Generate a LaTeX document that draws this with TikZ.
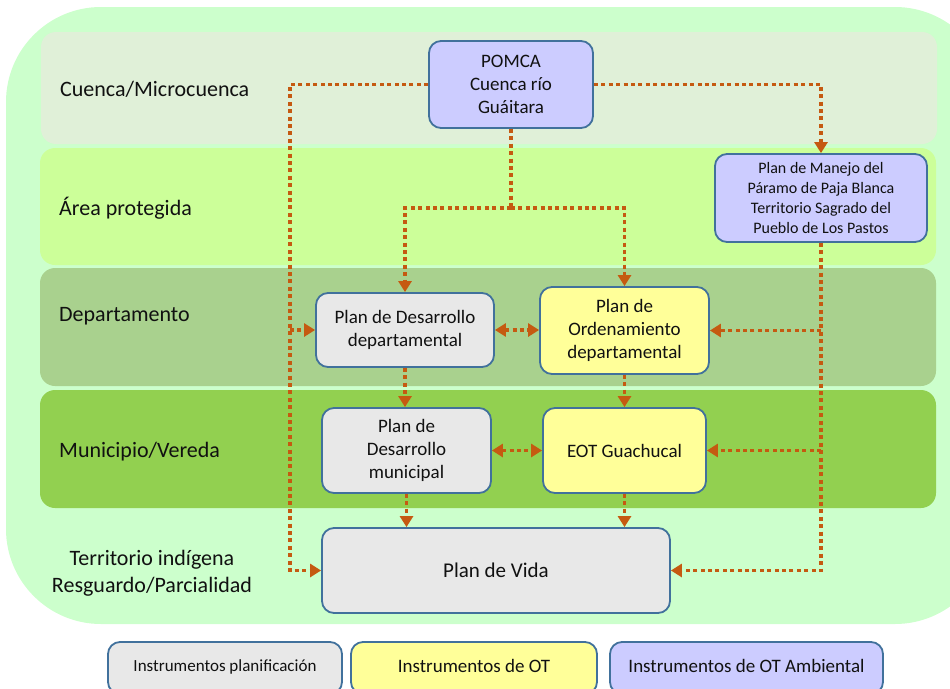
\documentclass[tikz,border=0pt]{standalone}
\usepackage{fontspec}
\setmainfont{Carlito}
\usetikzlibrary{arrows.meta,calc}

\definecolor{outerbg}{HTML}{CCFFCC}
\definecolor{bandA}{HTML}{E0F0D8}
\definecolor{bandB}{HTML}{CCFF99}
\definecolor{bandC}{HTML}{A9D18E}
\definecolor{bandD}{HTML}{92D050}
\definecolor{boxgray}{HTML}{E8E8E8}
\definecolor{boxyellow}{HTML}{FFFF99}
\definecolor{boxblue}{HTML}{CCCCFF}
\definecolor{boxline}{HTML}{41719C}
\definecolor{flowc}{HTML}{C55A11}
\definecolor{ink}{HTML}{111111}

\tikzset{
  band/.style={rounded corners=15pt},
  inst/.style={draw=boxline, line width=1.8pt, rounded corners=12pt, inner sep=0pt,
    align=center, text=ink, font=\fontsize{19}{23}\selectfont},
  gray/.style={inst, fill=boxgray},
  yel/.style={inst, fill=boxyellow},
  blu/.style={inst, fill=boxblue},
  level/.style={text=ink, font=\fontsize{22}{27}\selectfont, inner sep=0pt},
  flow/.style={draw=flowc, line width=3.8pt, dash pattern=on 4pt off 3.4pt},
  tip/.style={-{Triangle[length=11pt,width=13pt]}},
  tips/.style={{Triangle[length=11pt,width=13pt]}-{Triangle[length=11pt,width=13pt]}},
}

\begin{document}
\begin{tikzpicture}[x=1pt,y=-1pt]
\useasboundingbox (0,0) rectangle (950,688);
\clip (0,0) rectangle (950,688);

% background region and level bands
\fill[outerbg, rounded corners=95pt] (6,7) rectangle (990,624);
\fill[bandA, band] (41,32) rectangle (937,144);
\fill[bandB, band] (40,148) rectangle (936,265);
\fill[bandC, band] (40,268) rectangle (936,386);
\fill[bandD, band] (40,390) rectangle (936,508);

% level labels
\node[level, anchor=base west] (lvA) at (60,96) {Cuenca/Microcuenca};
\node[level, anchor=base west] (lvB) at (59,215) {Área protegida};
\node[level, anchor=base west] (lvC) at (59,321) {Departamento};
\node[level, anchor=base west] (lvD) at (59,457) {Municipio/Vereda};
\node[level, anchor=base] (lvE1) at (152,565) {Territorio indígena};
\node[level, anchor=base] (lvE2) at (152,592) {Resguardo/Parcialidad};

% planning instruments
\node[blu, minimum width=164pt, minimum height=87pt] (pomca) at (511,84.5)
  {POMCA\\Cuenca río\\Guáitara};
\node[blu, minimum width=212pt, minimum height=88pt,
  font=\fontsize{16}{19.8}\selectfont] (pm) at (821,198)
  {Plan de Manejo del\\Páramo de Paja Blanca\\Territorio Sagrado del\\Pueblo de Los Pastos};
\node[gray, minimum width=178pt, minimum height=74pt] (pdd) at (405,330)
  {Plan de Desarrollo\\departamental};
\node[yel, minimum width=169pt, minimum height=87pt] (pod) at (624.5,330.5)
  {Plan de\\Ordenamiento\\departamental};
\node[gray, minimum width=169pt, minimum height=85pt] (pdm) at (406.5,450.5)
  {Plan de\\Desarrollo\\municipal};
\node[yel, minimum width=163pt, minimum height=85pt] (eot) at (624.5,450.5)
  {EOT Guachucal};
\node[gray, minimum width=348pt, minimum height=85pt,
  font=\fontsize{21}{25}\selectfont] (vida) at (496,570.5) {Plan de Vida};

% legend
\node[gray, minimum width=234pt, minimum height=52pt,
  font=\fontsize{17}{20}\selectfont] (lg1) at (225,668) {\raisebox{4pt}{Instrumentos planificación}};
\node[yel, minimum width=246pt, minimum height=52pt] (lg2) at (474,668)
  {\raisebox{4pt}{Instrumentos de OT}};
\node[blu, minimum width=273pt, minimum height=52pt] (lg3) at (746.5,668)
  {\raisebox{4pt}{Instrumentos de OT Ambiental}};

% connector junctions
\coordinate (lcol) at (290,0);
\coordinate (mid) at (511,208);

% POMCA to the left column
\draw[flow, tip] (pomca.west) -| (lcol |- vida.west) -- (vida.west);
\draw[flow, tip] (lcol |- pdd.west) -- (pdd.west);
% POMCA to the management plan
\draw[flow, tip] (pomca.east) -| (pm.north);
% POMCA down to departmental plans
\draw[flow] (pomca.south) -- (mid);
\draw[flow, tip] (mid) -| (pdd.north);
\draw[flow, tip] (mid) -| (pod.north);
% management plan right column
\draw[flow, tip] (pm.south) |- (vida.east);
\draw[flow, tip] (pm.south |- pod.east) -- (pod.east);
\draw[flow, tip] (pm.south |- eot.east) -- (eot.east);
% mutual links
\draw[flow, tips] (pdd.east) -- (pdd.east -| pod.west);
\draw[flow, tips] (pdm.east) -- (pdm.east -| eot.west);
% downward links
\draw[flow, tip] (pdd.south) -- (pdd.south |- pdm.north);
\draw[flow, tip] (pod.south) -- (pod.south |- eot.north);
\draw[flow, tip] (pdm.south) -- (pdm.south |- vida.north);
\draw[flow, tip] (eot.south) -- (eot.south |- vida.north);
\end{tikzpicture}
\end{document}
